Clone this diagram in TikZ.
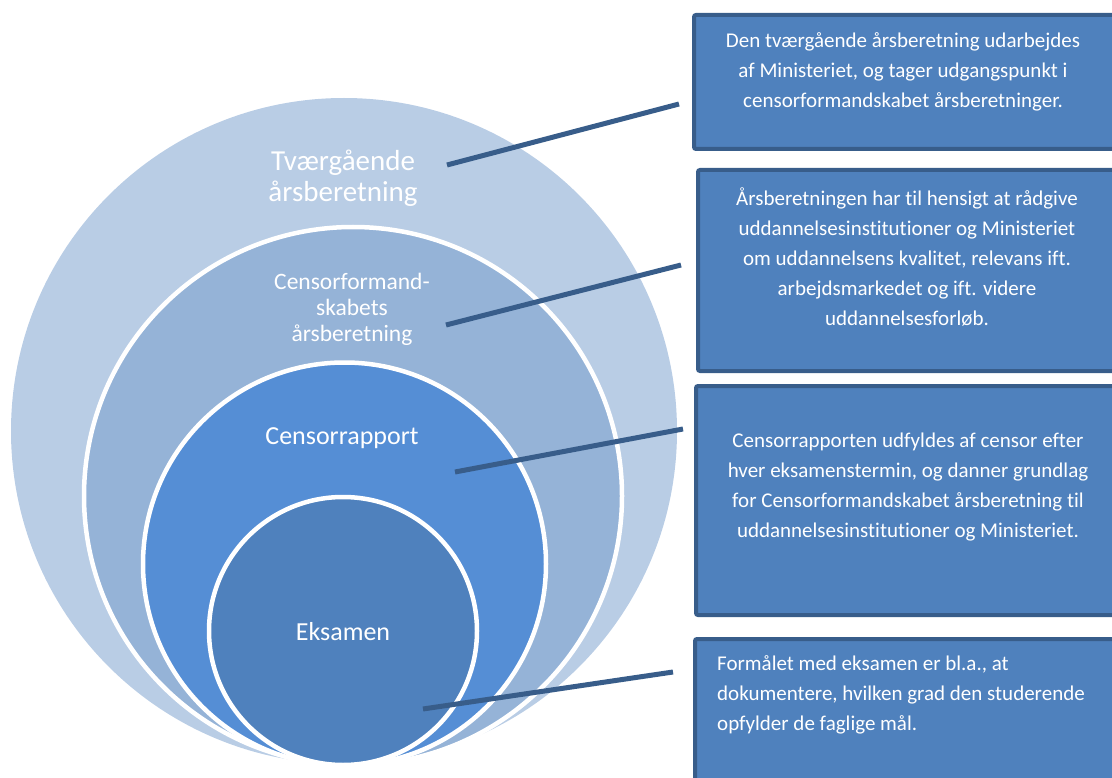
\documentclass[tikz,border=0pt]{standalone}
\usepackage{fontspec}
\setmainfont{Carlito}[Ligatures=NoCommon]
\definecolor{ringA}{RGB}{185,205,229}
\definecolor{ringB}{RGB}{149,179,215}
\definecolor{ringC}{RGB}{85,142,213}
\definecolor{ringD}{RGB}{79,129,189}
\definecolor{boxfill}{RGB}{79,129,189}
\definecolor{boxedge}{RGB}{56,93,138}
\tikzset{
  ring/.style={circle, draw=white, line width=4.5pt, inner sep=0pt, outer sep=0pt},
  infobox/.style={rectangle, draw=boxedge, fill=boxfill, line width=4pt, rounded corners=2pt, inner sep=0pt, outer sep=0pt, anchor=north west},
  boxtext/.style={text=white, inner sep=0pt, font=\fontsize{21}{29.8}\selectfont},
  ringtext/.style={text=white, inner sep=0pt, align=center},
  leader/.style={draw=boxedge, line width=5pt}
}
\begin{document}
\begin{tikzpicture}[x=1pt,y=-1pt]
\useasboundingbox (0,0) rectangle (1112,778);
\clip (0,0) rectangle (1112,778);
% nested circles
\node[ring, fill=ringA, draw=none, minimum size=666pt] (c1) at (344,431) {};
\node[ring, fill=ringB, minimum size=538pt] (c2) at (353,496) {};
\node[ring, fill=ringC, minimum size=403pt] (c3) at (344.5,564) {};
\node[ring, fill=ringD, minimum size=268pt] (c4) at (343,631) {};
% circle labels
\node[ringtext, font=\fontsize{29}{31}\selectfont] (t1) at (343,178) {Tværgående\\årsberetning};
\node[ringtext, font=\fontsize{23.5}{26}\selectfont] (t2) at (352,309) {Censorformand-\\skabets\\årsberetning};
\node[ringtext, font=\fontsize{26}{30}\selectfont] (t3) at (342,438) {Censorrapport};
\node[ringtext, font=\fontsize{26}{30}\selectfont] (t4) at (343,632) {Eksamen};
% boxes
\node[infobox, minimum width=430pt, minimum height=134pt] (b1) at (694,15) {};
\node[infobox, minimum width=430pt, minimum height=201pt] (b2) at (698,170) {};
\node[infobox, minimum width=430pt, minimum height=229pt] (b3) at (696,386) {};
\node[infobox, minimum width=430pt, minimum height=170pt] (b4) at (695,639) {};
% box texts
\node[boxtext, align=center] (x1) at (903,72) {Den tværgående årsberetning udarbejdes\\af Ministeriet, og tager udgangspunkt i\\censorformandskabet årsberetninger.};
\node[boxtext, align=center] (x2) at (907,257) {Årsberetningen har til hensigt at rådgive\\uddannelsesinstitutioner og Ministeriet\\om uddannelsens kvalitet, relevans ift.\\arbejdsmarkedet og ift. videre\\uddannelsesforløb.};
\node[boxtext, align=center] (x3) at (908,487) {Censorrapporten udfyldes af censor efter\\hver eksamenstermin, og danner grundlag\\for Censorformandskabet årsberetning til\\uddannelsesinstitutioner og Ministeriet.};
\node[boxtext, align=left, anchor=west] (x4) at (717,695) {Formålet med eksamen er bl.a., at\\dokumentere, hvilken grad den studerende\\opfylder de faglige mål.};
% leader lines
\coordinate (s1) at (447,165); \coordinate (e1) at (679,104);
\coordinate (s2) at (446,325); \coordinate (e2) at (681,265);
\coordinate (s3) at (455,472); \coordinate (e3) at (683,429);
\coordinate (s4) at (423,709); \coordinate (e4) at (673,672);
\draw[leader] (s1) -- (e1);
\draw[leader] (s2) -- (e2);
\draw[leader] (s3) -- (e3);
\draw[leader] (s4) -- (e4);
\end{tikzpicture}
\end{document}
